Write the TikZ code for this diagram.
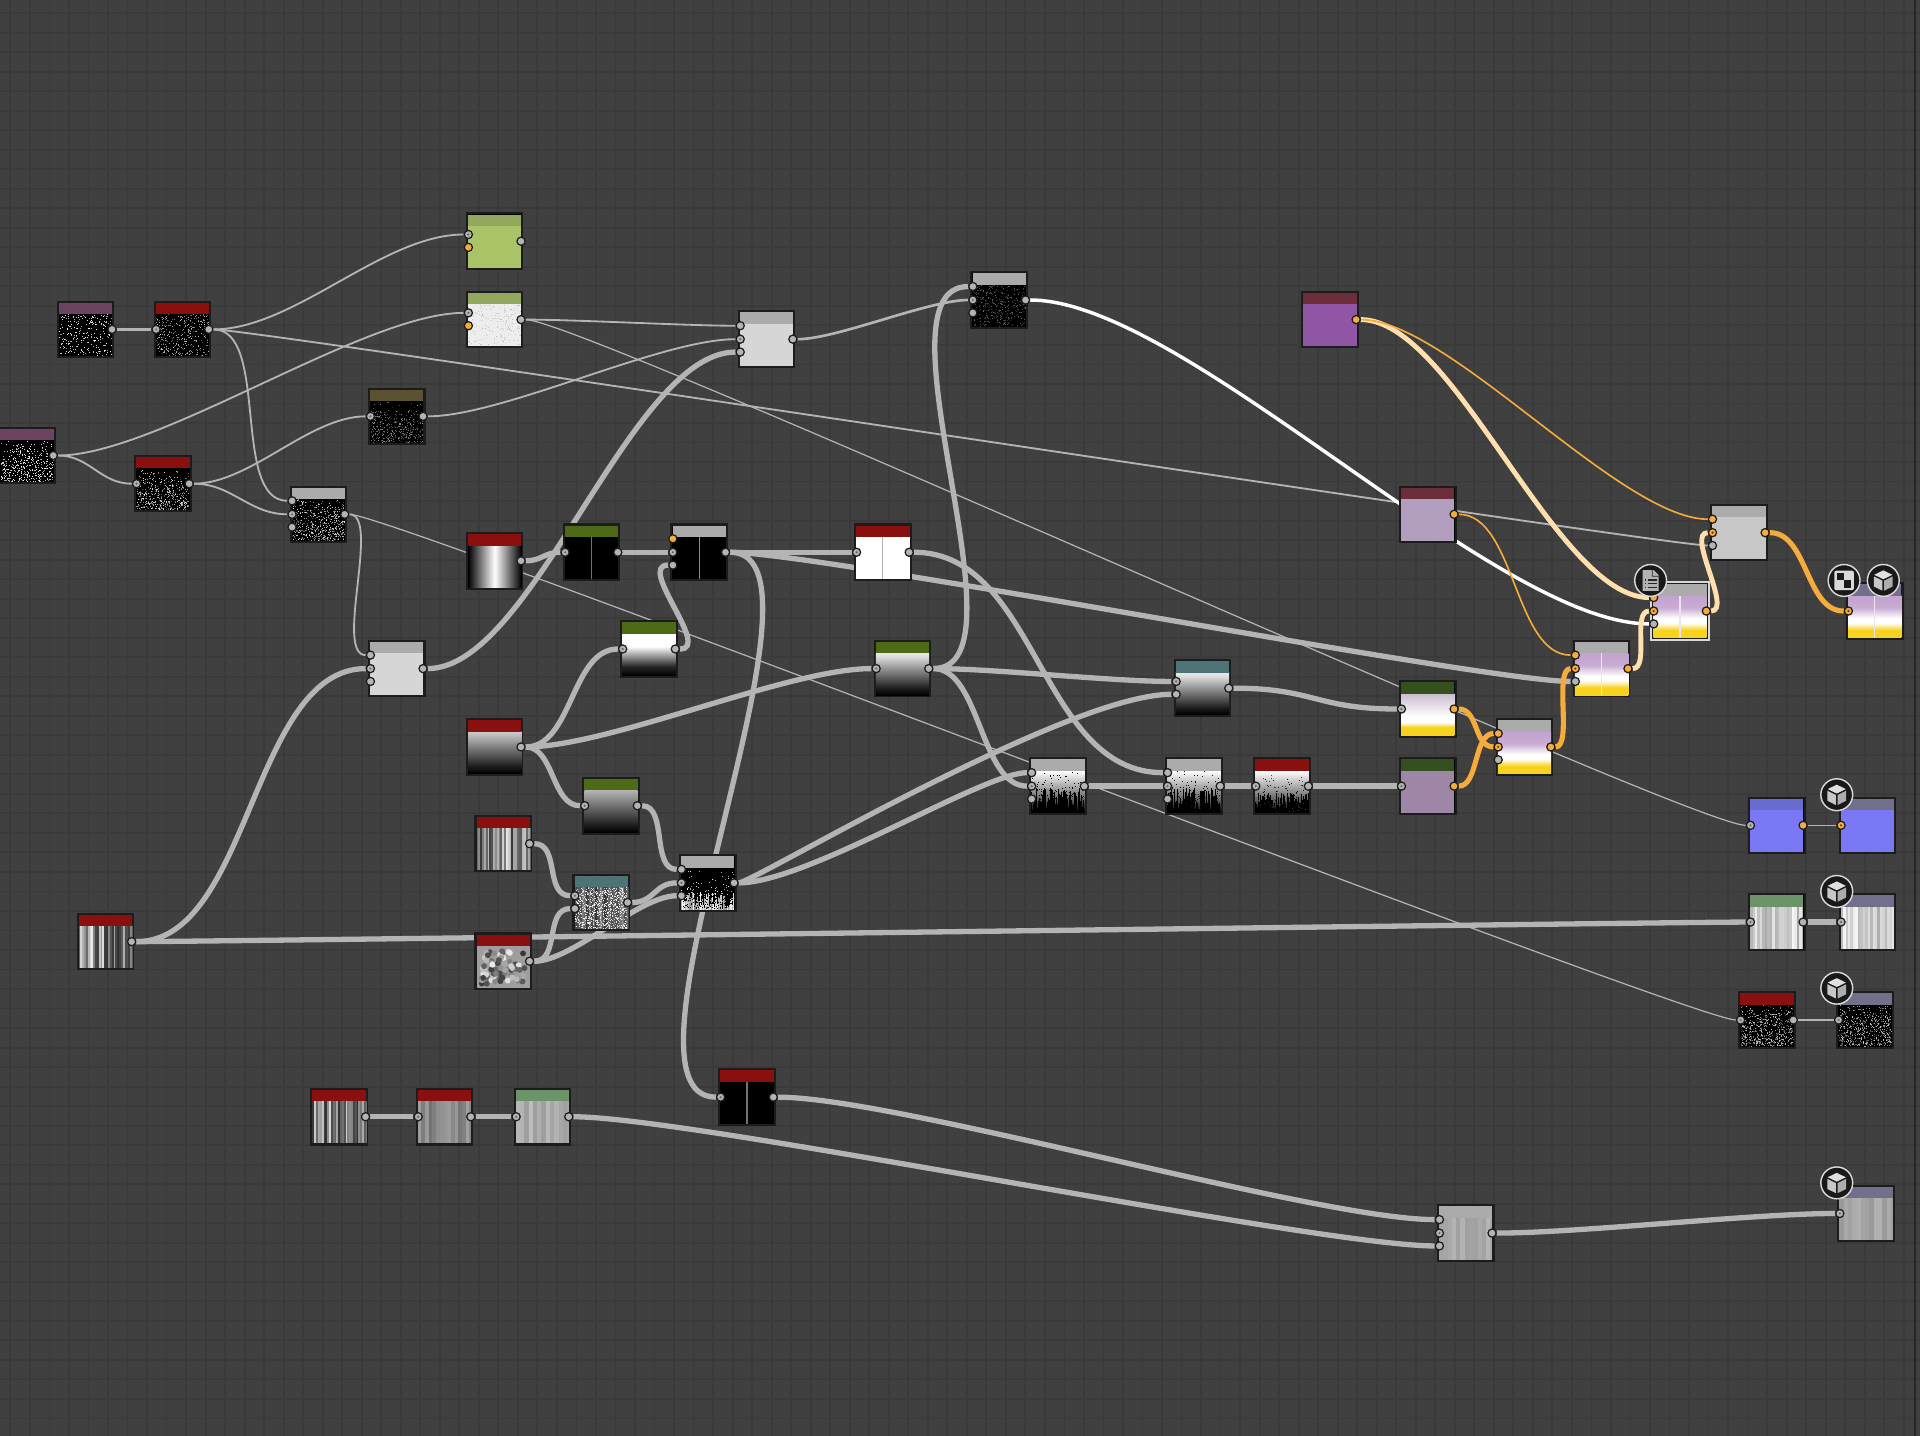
\documentclass[tikz,border=0pt]{standalone}
\usetikzlibrary{calc}
\pgfdeclarelayer{bgl}\pgfdeclarelayer{wires}\pgfsetlayers{bgl,wires,main}
\definecolor{bgc}{HTML}{404040}\definecolor{gridc}{HTML}{3A3A3A}\definecolor{edge}{HTML}{1C1C1C}
\definecolor{wg}{HTML}{B4B4B4}\definecolor{wo}{HTML}{F5AC3D}\definecolor{wc}{HTML}{FFDFAE}
\definecolor{hred}{HTML}{8A1010}\definecolor{hpur}{HTML}{6D4460}\definecolor{holv}{HTML}{5A5232}
\definecolor{hgry}{HTML}{ABABAB}\definecolor{hlgn}{HTML}{93A85E}\definecolor{hdgn}{HTML}{4D6B17}
\definecolor{hdg2}{HTML}{35501F}\definecolor{htea}{HTML}{4D7377}\definecolor{hmar}{HTML}{6E2D3A}
\definecolor{hblu}{HTML}{6A6BCF}\definecolor{hout}{HTML}{70708A}\definecolor{hmgn}{HTML}{6D9468}
\definecolor{lil}{HTML}{C9BCCF}\definecolor{pur}{HTML}{C3A2CF}\definecolor{yel}{HTML}{F7D31E}
\definecolor{lim}{HTML}{A8C466}\definecolor{pmut}{HTML}{9D86A6}\definecolor{prp}{HTML}{9055A5}
\definecolor{lv2}{HTML}{B29FC0}\definecolor{blu}{HTML}{7B78F5}
\pgfdeclareverticalshading{gBW}{100bp}{color(0bp)=(black);color(25bp)=(black);color(36bp)=(black!85!white);color(60bp)=(white);color(75bp)=(white);color(100bp)=(white)}
\pgfdeclareverticalshading{gLG}{100bp}{color(0bp)=(black);color(25bp)=(black);color(33bp)=(black!90!white);color(72bp)=(white!88!black);color(75bp)=(white!90!black);color(100bp)=(white!90!black)}
\pgfdeclareverticalshading{gHG}{100bp}{color(0bp)=(black);color(25bp)=(black);color(33bp)=(black!90!white);color(75bp)=(white!80!black);color(100bp)=(white!80!black)}
\pgfdeclareverticalshading{gMG}{100bp}{color(0bp)=(black);color(25bp)=(black);color(33bp)=(black!90!white);color(75bp)=(white!70!black);color(100bp)=(white!70!black)}
\pgfdeclareverticalshading{gPY}{100bp}{color(0bp)=(yel);color(25bp)=(yel);color(34bp)=(yel);color(40bp)=(yel!30!white);color(43bp)=(white);color(48bp)=(white);color(61bp)=(pur!90!white);color(75bp)=(pur);color(100bp)=(pur)}
\pgfdeclareverticalshading{gLY}{100bp}{color(0bp)=(yel);color(25bp)=(yel);color(35bp)=(yel);color(41bp)=(white);color(48bp)=(white);color(75bp)=(lil);color(100bp)=(lil)}
\pgfdeclareverticalshading{gWF}{100bp}{color(0bp)=(black);color(25bp)=(black);color(42bp)=(black!60!white);color(75bp)=(white);color(100bp)=(white)}
\tikzset{
  nodebox/.style={rectangle,draw=edge,fill=black,line width=1pt,inner sep=0pt,minimum size=27.2pt},
  pbase/.style={circle,inner sep=0pt,minimum size=4pt,draw=edge,line width=0.6pt},
  pg/.style={pbase,fill=wg},
  pd/.style={pbase,fill=wg,path picture={\fill[black!60] (path picture bounding box.center) circle (0.6pt);}},
  po/.style={pbase,fill=wo},
  pod/.style={pbase,fill=wo,path picture={\fill[black!65!wo] (path picture bounding box.center) circle (0.6pt);}},
  thin wire/.style={draw=wg,line width=0.9pt},
  hair wire/.style={draw=wg,line width=0.6pt},
  mid wire/.style={draw=wg,line width=1.3pt},
  fat wire/.style={draw=wg,line width=2.6pt},
  white wire/.style={draw=white,line width=1.7pt},
  cream wire/.style={draw=wc,line width=2.4pt},
  orange wire/.style={draw=wo,line width=2.5pt},
  oranget wire/.style={draw=wo,line width=0.8pt},
  iconbox/.style={circle,fill=black!90,draw=white!85!black,line width=0.7pt,inner sep=0pt,minimum size=15.6pt},
}
\newcommand\wire[4]{\draw[#1] (#2) .. controls +(#4,0) and +(-#4,0) .. (#3);}
\newcommand\wireB[5]{\draw[#1] (#2) .. controls +(#4,0) and +(-#5,0) .. (#3);}
\newcommand\nd[5]{%
  \node[nodebox] (#1) at (#2+23,#3+23) {};
  \begin{scope}[shift={(#2,#3)}]
    #5
    \fill[#4] (1.2,1.2) rectangle (44.8,10.5);
  \end{scope}}
\def\pofa{-11}\def\pofb{0}\def\pofc{10.5}\def\pofp{-5.5}\def\pofq{5}
\newcommand\pI[3]{\node[#3] (#1#2) at ([shift={(-21.5,\csname pof#2\endcsname)}]#1.center) {};}
\newcommand\pO[2]{\node[#2] (#1o) at ([shift={(21.5,0)}]#1.center) {};}
\newcommand\flatb[1]{\fill[#1] (1.2,10.5) rectangle (44.8,44.8);}
\newcommand\gradb[1]{\shade[shading=#1] (1.2,10.5) rectangle (44.8,44.8);}
\newcommand\cenline[1]{\draw[#1,line width=0.6pt] (23,10.5) -- (23,44.8);}
\newcommand\speck[4]{\foreach \i in {1,...,#1}{%
  \pgfmathsetmacro\xv{1.3+42.7*rnd}\pgfmathsetmacro\yv{10.6+33.3*rnd^#2}\pgfmathsetmacro\gv{#3+(#4-#3)*rnd}%
  \fill[white!\gv!black] (\xv,\yv) rectangle +(0.8,0.8);}}
\newcommand\stripes[3]{\pgfmathtruncatemacro\nn{43.6/#3}\foreach \i in {0,...,\nn}{%
  \pgfmathsetmacro\gv{#1+(#2-#1)*rnd}\pgfmathsetmacro\xv{1.2+\i*#3}\pgfmathsetmacro\xw{min(44.8,\xv+#3+0.05)}%
  \fill[white!\gv!black] (\xv,10.5) rectangle (\xw,44.8);}}
\newcommand\fringeW[2]{\foreach \i in {0,...,71}{%
  \pgfmathsetmacro\yv{#1+#2*rnd}%
  \fill[black] ({1.2+\i*0.6},\yv) rectangle ({1.8+\i*0.6},44.8);}}
\newcommand\fringeK[2]{\foreach \i in {0,...,71}{%
  \pgfmathsetmacro\yv{#1+#2*rnd}\pgfmathsetmacro\gv{55+45*rnd}%
  \fill[white!\gv!black] ({1.2+\i*0.6},\yv) rectangle ({1.8+\i*0.6},44.8);}}
\newcommand\blotch{\flatb{white!62!black}\foreach \i in {1,...,75}{%
  \pgfmathsetmacro\xv{4+38*rnd}\pgfmathsetmacro\yv{13.5+28*rnd}\pgfmathsetmacro\gv{22+70*rnd}%
  \fill[white!\gv!black] (\xv,\yv) circle (2.4);}}
\newcommand\cubeicon[3]{%
  \node[iconbox] (#1) at (#2,#3) {};
  \begin{scope}[shift={(#2,#3)}]
    \fill[white!88!black] (0,-8.2) -- (7.4,-4.6) -- (0,-1) -- (-7.4,-4.6) -- cycle;
    \fill[white!78!black] (-7.6,-3.2) -- (-0.7,0.2) -- (-0.7,8.4) -- (-7.6,5) -- cycle;
    \fill[white!68!black] (7.6,-3.2) -- (0.7,0.2) -- (0.7,8.4) -- (7.6,5) -- cycle;
  \end{scope}}
\begin{document}
\begin{tikzpicture}[x=0.6pt,y=-0.6pt]
\useasboundingbox (0,0) rectangle (1568,1172.7);
\pgfmathsetseed{4242}
\begin{pgfonlayer}{bgl}
  \fill[bgc] (0,0) rectangle (1568,1172.7);
  \foreach \i in {0,...,98}{\draw[gridc,line width=0.9pt] ({8.5+\i*15.94},0) -- ++(0,1172.7);}
  \foreach \i in {0,...,73}{\draw[gridc,line width=0.9pt] (0,{10.7+\i*15.94}) -- ++(1568,0);}
  \draw[black!85,line width=1pt] (1564,0) -- (1564,1172.7);
\end{pgfonlayer}
% nodes
\nd{n1}{47}{246}{hpur}{\speck{260}{1}{60}{100}}
\nd{n2}{126}{246}{hred}{\speck{340}{1}{30}{80}}
\nd{n3}{-1}{349}{hpur}{\speck{420}{0.6}{60}{100}}
\nd{n4}{110}{372}{hred}{\speck{480}{0.55}{30}{90}}
\nd{n5}{301}{317}{holv}{\speck{420}{0.55}{12}{60}}
\nd{n6}{237}{397}{hgry}{\speck{560}{0.65}{25}{90}}
\nd{n7}{381}{174}{hlgn}{\flatb{lim}}
\nd{n8}{381}{238}{hlgn}{\flatb{white!93!black}\speck{220}{1}{72}{90}}
\nd{n9}{381}{435}{hred}{\shade[left color=black,right color=black,middle color=white] (1.2,10.5) rectangle (44.8,44.8);}
\nd{n10}{603}{254}{hgry}{\flatb{white!84!black}}
\nd{n11}{301}{523}{hgry}{\flatb{white!84!black}}
\nd{n12}{460}{428}{hdgn}{\cenline{black!55}}
\nd{n13}{548}{428}{hgry}{\cenline{black!45}}
\nd{n14}{698}{428}{hred}{\flatb{white}\cenline{white!70!black}}
\nd{n15}{507}{507}{hdgn}{\gradb{gBW}}
\nd{n16}{714}{523}{hdgn}{\gradb{gLG}}
\nd{n17}{381}{587}{hred}{\gradb{gHG}}
\nd{n18}{476}{635}{hdgn}{\gradb{gMG}}
\nd{n19}{388}{666}{hred}{\stripes{18}{92}{1.5}}
\nd{n20}{468}{714}{htea}{\stripes{20}{60}{1.5}\speck{800}{1}{70}{100}}
\nd{n21}{555}{698}{hgry}{\fringeK{30}{14}\speck{150}{0.5}{50}{100}\speck{160}{0.35}{0}{0}}
\nd{n22}{388}{762}{hred}{\blotch}
\nd{n23}{63}{746}{hred}{\stripes{18}{92}{1.5}}
\nd{n24}{793}{222}{hgry}{\speck{380}{1}{12}{42}}
\nd{n25}{959}{539}{htea}{\gradb{gLG}}
\nd{n26}{841}{619}{hgry}{\gradb{gWF}\fringeW{24}{19}\speck{140}{0.7}{0}{0}}
\nd{n27}{952}{619}{hgry}{\gradb{gWF}\fringeW{24}{19}\speck{140}{0.7}{0}{10}}
\nd{n28}{1024}{619}{hred}{\gradb{gWF}\fringeW{28}{15}\speck{90}{0.7}{0}{30}}
\nd{n29}{1143}{556}{hdg2}{\gradb{gLY}}
\nd{n30}{1143}{619}{hdg2}{\flatb{pmut}}
\nd{n31}{1063}{238}{hmar}{\flatb{prp}}
\nd{n32}{1143}{397}{hmar}{\flatb{lv2}}
\nd{n33}{1222}{587}{hgry}{\gradb{gPY}}
\nd{n34}{1285}{523}{hgry}{\gradb{gPY}\cenline{white!70!pur}}
\nd{n35}{1349}{476}{hgry}{\gradb{gPY}\cenline{white!70!pur}}
\draw[white!85!black,line width=0.9pt] (n35.north west) rectangle (n35.south east);
\nd{n36}{1397}{412}{hgry}{\flatb{white!78!black}}
\nd{n37}{1508}{476}{hout}{\gradb{gPY}\cenline{white!70!pur}}
\nd{n38}{1428}{651}{hblu}{\flatb{blu}}
\nd{n39}{1502}{651}{hout}{\flatb{blu}}
\nd{n40}{1428}{730}{hmgn}{\stripes{66}{98}{2}}
\nd{n41}{1502}{730}{hout}{\stripes{66}{98}{2}}
\nd{n42}{1420}{810}{hred}{\speck{620}{0.65}{22}{80}}
\nd{n43}{1500}{810}{hout}{\speck{620}{0.65}{22}{80}}
\nd{n44}{254}{889}{hred}{\stripes{18}{88}{1.5}}
\nd{n45}{340}{889}{hred}{\stripes{45}{64}{3}}
\nd{n46}{420}{889}{hmgn}{\stripes{62}{74}{3.5}}
\nd{n47}{587}{873}{hred}{\cenline{black!55}}
\nd{n48}{1174}{984}{hgry}{\stripes{62}{74}{3.5}}
\nd{n49}{1501}{968}{hout}{\stripes{60}{72}{3.5}}
% ports
\pO{n1}{pg}\pI{n2}{b}{pd}\pO{n2}{pg}\pO{n3}{pg}\pI{n4}{b}{pd}\pO{n4}{pg}
\pI{n5}{b}{pd}\pO{n5}{pg}\pI{n6}{a}{pg}\pI{n6}{b}{pd}\pI{n6}{c}{pg}\pO{n6}{pg}
\pI{n7}{p}{pd}\pI{n7}{q}{po}\pO{n7}{pg}\pI{n8}{p}{pd}\pI{n8}{q}{po}\pO{n8}{pg}
\pO{n9}{pg}\pI{n10}{a}{pg}\pI{n10}{b}{pd}\pI{n10}{c}{pg}\pO{n10}{pg}
\pI{n11}{a}{pg}\pI{n11}{b}{pd}\pI{n11}{c}{pg}\pO{n11}{pg}
\pI{n12}{b}{pd}\pO{n12}{pg}\pI{n13}{a}{po}\pI{n13}{b}{pd}\pI{n13}{c}{pg}\pO{n13}{pg}
\pI{n14}{b}{pd}\pO{n14}{pg}\pI{n15}{b}{pd}\pO{n15}{pg}\pI{n16}{b}{pd}\pO{n16}{pg}
\pO{n17}{pg}\pI{n18}{b}{pd}\pO{n18}{pg}\pO{n19}{pg}
\pI{n20}{p}{pd}\pI{n20}{q}{pg}\pO{n20}{pg}
\pI{n21}{a}{pg}\pI{n21}{b}{pd}\pI{n21}{c}{pg}\pO{n21}{pg}\pO{n22}{pg}\pO{n23}{pg}
\pI{n24}{a}{pg}\pI{n24}{b}{pd}\pI{n24}{c}{pg}\pO{n24}{pg}
\pI{n25}{p}{pd}\pI{n25}{q}{pg}\pO{n25}{pg}
\pI{n26}{a}{pg}\pI{n26}{b}{pd}\pI{n26}{c}{pg}\pO{n26}{pg}
\pI{n27}{a}{pg}\pI{n27}{b}{pd}\pI{n27}{c}{pg}\pO{n27}{pg}
\pI{n28}{b}{pd}\pO{n28}{pg}\pI{n29}{b}{pd}\pO{n29}{po}\pI{n30}{b}{pd}\pO{n30}{po}
\pO{n31}{po}\pO{n32}{po}
\pI{n33}{a}{po}\pI{n33}{b}{pod}\pI{n33}{c}{pg}\pO{n33}{po}
\pI{n34}{a}{po}\pI{n34}{b}{pod}\pI{n34}{c}{pg}\pO{n34}{po}
\pI{n35}{a}{po}\pI{n35}{b}{pod}\pI{n35}{c}{pg}\pO{n35}{po}
\pI{n36}{a}{po}\pI{n36}{b}{pod}\pI{n36}{c}{pg}\pO{n36}{po}
\pI{n37}{b}{pod}\pI{n38}{b}{pd}\pO{n38}{po}\pI{n39}{b}{pod}
\pI{n40}{b}{pd}\pO{n40}{pg}\pI{n41}{b}{pd}\pI{n42}{b}{pd}\pO{n42}{pg}\pI{n43}{b}{pd}
\pO{n44}{pg}\pI{n45}{b}{pd}\pO{n45}{pg}\pI{n46}{b}{pd}\pO{n46}{pg}
\pI{n47}{b}{pd}\pO{n47}{pg}
\pI{n48}{a}{pg}\pI{n48}{b}{pd}\pI{n48}{c}{pg}\pO{n48}{pg}\pI{n49}{b}{pd}
% icons
\node[iconbox] (idoc) at (1348,474) {};
\begin{scope}[shift={(1348,474)}]
  \fill[white!70!black] (-6.5,-8.5) -- (2.5,-8.5) -- (6.5,-4.5) -- (6.5,8.5) -- (-6.5,8.5) -- cycle;
  \fill[black!85] (1.7,-8.5) -- (1.7,-3.7) -- (6.5,-3.7) -- (6.5,-3) -- (1,-3) -- (1,-8.5) -- cycle;
  \foreach \yv in {-1,2,5}{\fill[black!85] (-2.5,\yv) rectangle (5,\yv+1.2); \fill[black!85] (-5,\yv) rectangle (-3.5,\yv+1.2);}
\end{scope}
\node[iconbox] (ichk) at (1506,474) {};
\begin{scope}[shift={(1506,474)}]
  \fill[white!85!black,rounded corners=1pt] (-8,-8) rectangle (8,8);
  \fill[black!90] (-6,-6) rectangle (0,0);
  \fill[black!90] (0,0) rectangle (6,6);
\end{scope}
\cubeicon{icu1}{1538}{474}
\cubeicon{icu2}{1500}{649}
\cubeicon{icu3}{1500}{728}
\cubeicon{icu4}{1500}{807}
\cubeicon{icu5}{1500}{966}
% wires
\begin{pgfonlayer}{wires}
\wire{mid wire}{n1o}{n2b}{15}
\wire{thin wire}{n2o}{n7p}{70}
\wire{thin wire}{n2o}{n6a}{50}
\wire{thin wire}{n2o}{n36c}{40}
\wire{thin wire}{n3o}{n8p}{85}
\wire{thin wire}{n3o}{n4b}{30}
\wire{thin wire}{n4o}{n5b}{50}
\wire{thin wire}{n4o}{n6b}{35}
\wire{thin wire}{n5o}{n10b}{65}
\wire{thin wire}{n6o}{n11a}{30}
\wire{hair wire}{n6o}{n42b}{40}
\wire{thin wire}{n8o}{n10a}{45}
\wire{hair wire}{n8o}{n38b}{50}
\wire{fat wire}{n9o}{n12b}{17}
\wire{mid wire}{n10o}{n24b}{36}
\wire{fat wire}{n11o}{n10c}{90}
\wire{fat wire}{n23o}{n11b}{97}
\wire{fat wire}{n23o}{n40b}{60}
\wire{fat wire}{n12o}{n13b}{15}
\wire{fat wire}{n13o}{n14b}{30}
\wire{fat wire}{n13o}{n34c}{75}
\wire{fat wire}{n13o}{n47b}{100}
\wire{fat wire}{n14o}{n27a}{105}
\wire{fat wire}{n15o}{n13c}{30}
\wire{fat wire}{n17o}{n15b}{42}
\wire{fat wire}{n17o}{n16b}{72}
\wire{fat wire}{n17o}{n18b}{27}
\wire{fat wire}{n18o}{n21a}{25}
\wire{fat wire}{n19o}{n20p}{25}
\wire{fat wire}{n22o}{n20q}{25}
\wire{fat wire}{n22o}{n21c}{35}
\wire{fat wire}{n20o}{n21b}{22}
\wireB{fat wire}{n21o}{n25q}{15}{90}
\wireB{fat wire}{n21o}{n26a}{60}{40}
\wire{fat wire}{n16o}{n26b}{42}
\wire{fat wire}{n16o}{n25p}{55}
\wire{fat wire}{n16o}{n24a}{85}
\wire{white wire}{n24o}{n35c}{130}
\wire{fat wire}{n25o}{n29b}{70}
\wire{fat wire}{n26o}{n27b}{30}
\wire{fat wire}{n27o}{n28b}{15}
\wire{fat wire}{n28o}{n30b}{35}
\wire{orange wire}{n29o}{n33b}{20}
\wire{orange wire}{n30o}{n33a}{20}
\wire{orange wire}{n33o}{n34b}{18}
\wire{cream wire}{n34o}{n35b}{18}
\wire{cream wire}{n35o}{n36b}{22}
\wire{orange wire}{n36o}{n37b}{35}
\wire{cream wire}{n31o}{n35a}{80}
\wire{oranget wire}{n31o}{n36a}{75}
\wire{oranget wire}{n32o}{n34a}{50}
\wire{oranget wire}{n38o}{n39b}{12}
\wire{fat wire}{n40o}{n41b}{12}
\wire{mid wire}{n42o}{n43b}{15}
\wire{fat wire}{n44o}{n45b}{20}
\wire{fat wire}{n45o}{n46b}{15}
\wire{fat wire}{n46o}{n48c}{100}
\wire{fat wire}{n47o}{n48a}{100}
\wire{fat wire}{n48o}{n49b}{70}
\end{pgfonlayer}
\end{tikzpicture}
\end{document}
